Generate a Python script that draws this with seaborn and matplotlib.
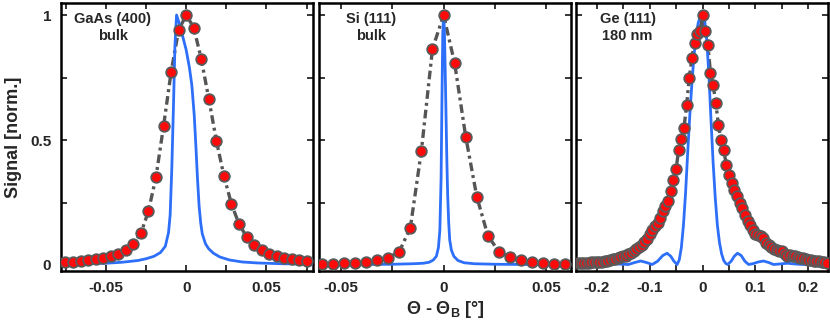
import matplotlib
matplotlib.use("Agg")
import matplotlib.pyplot as plt
import seaborn as sns
import pandas as pd
import numpy as np

# ---------------- data ----------------
# GaAs (400) bulk
gaas_x = [-0.0752, -0.0705, -0.0658, -0.0611, -0.0564, -0.0517, -0.0470, -0.0423,
          -0.0376, -0.0329, -0.0282, -0.0235, -0.0188, -0.0141, -0.0094, -0.0047,
          0.0, 0.0047, 0.0094, 0.0141, 0.0188, 0.0235, 0.0282, 0.0329, 0.0376,
          0.0423, 0.0470, 0.0517, 0.0564, 0.0611, 0.0658, 0.0705, 0.0752]
gaas_y = [0.011, 0.012, 0.016, 0.020, 0.024, 0.029, 0.036, 0.044, 0.060, 0.083,
          0.127, 0.216, 0.353, 0.556, 0.772, 0.940, 1.000, 0.950, 0.823, 0.664,
          0.497, 0.356, 0.244, 0.164, 0.113, 0.080, 0.060, 0.044, 0.036, 0.029,
          0.023, 0.019, 0.016]
gaas_th_x = [-0.079, -0.06, -0.05, -0.04, -0.03, -0.025, -0.02, -0.016, -0.013,
             -0.011, -0.010, -0.009, -0.008, -0.007, -0.006, -0.004, -0.002, 0.0,
             0.002, 0.0035, 0.005, 0.006, 0.007, 0.008, 0.009, 0.010, 0.012, 0.014,
             0.017, 0.021, 0.027, 0.035, 0.045, 0.06, 0.079]
gaas_th_y = [0.003, 0.005, 0.007, 0.011, 0.018, 0.025, 0.035, 0.050, 0.075,
             0.130, 0.200, 0.380, 0.620, 0.880, 1.000, 0.960, 0.910, 0.860,
             0.790, 0.720, 0.600, 0.480, 0.350, 0.240, 0.170, 0.125, 0.085, 0.065,
             0.047, 0.032, 0.020, 0.012, 0.008, 0.005, 0.003]

# Si (111) bulk
si_x = [-0.0594, -0.0540, -0.0486, -0.0432, -0.0378, -0.0324, -0.0270, -0.0216,
        -0.0162, -0.0108, -0.0054, 0.0, 0.0054, 0.0108, 0.0162, 0.0216, 0.0270,
        0.0324, 0.0378, 0.0432, 0.0486, 0.0540, 0.0594]
si_y = [0.003, 0.004, 0.007, 0.008, 0.013, 0.020, 0.029, 0.053, 0.149, 0.457,
        0.864, 1.000, 0.807, 0.513, 0.273, 0.117, 0.053, 0.031, 0.020, 0.013,
        0.008, 0.005, 0.003]
si_th_x = [-0.0607, -0.04, -0.025, -0.015, -0.01, -0.007, -0.005, -0.0035, -0.0025,
           -0.0018, -0.0012, -0.0008, -0.0004, 0.0, 0.0004, 0.0008, 0.0012, 0.0016,
           0.002, 0.0025, 0.003, 0.0038, 0.005, 0.007, 0.01, 0.015, 0.025, 0.04, 0.0621]
si_th_y = [0.001, 0.002, 0.003, 0.005, 0.007, 0.011, 0.020, 0.035, 0.070, 0.140,
           0.350, 0.650, 0.920, 1.000, 0.940, 0.780, 0.600, 0.420, 0.280, 0.170,
           0.100, 0.060, 0.035, 0.018, 0.009, 0.005, 0.003, 0.002, 0.001]

# Ge (111) 180 nm
ge_x = [-0.235, -0.230, -0.225, -0.220, -0.215, -0.210, -0.205, -0.200, -0.195,
        -0.190, -0.185, -0.180, -0.175, -0.170, -0.165, -0.160, -0.155, -0.150,
        -0.145, -0.140, -0.135, -0.130, -0.125, -0.120, -0.115, -0.110, -0.105,
        -0.100, -0.095, -0.090, -0.085, -0.080, -0.075, -0.070, -0.065, -0.060,
        -0.055, -0.050, -0.045, -0.040, -0.035, -0.030, -0.025, -0.020, -0.015,
        -0.010, -0.005, 0.000, 0.005, 0.010, 0.015, 0.020, 0.025, 0.030, 0.035,
        0.040, 0.045, 0.050, 0.055, 0.060, 0.065, 0.070, 0.075, 0.080, 0.085,
        0.090, 0.095, 0.100, 0.105, 0.110, 0.115, 0.120, 0.125, 0.130, 0.135,
        0.140, 0.145, 0.150, 0.155, 0.160, 0.165, 0.170, 0.175, 0.180, 0.185,
        0.190, 0.195, 0.200, 0.205, 0.210, 0.215, 0.220, 0.225, 0.230, 0.235]
ge_y = [0.009, 0.009, 0.010, 0.010, 0.010, 0.011, 0.011, 0.012, 0.013, 0.013,
        0.016, 0.018, 0.020, 0.023, 0.026, 0.029, 0.032, 0.036, 0.038, 0.043,
        0.050, 0.058, 0.064, 0.072, 0.082, 0.093, 0.105, 0.125, 0.140, 0.155,
        0.170, 0.190, 0.215, 0.235, 0.258, 0.295, 0.340, 0.385, 0.460, 0.505,
        0.550, 0.640, 0.750, 0.830, 0.890, 0.925, 0.935, 1.000, 0.935, 0.880,
        0.770, 0.720, 0.650, 0.560, 0.500, 0.460, 0.400, 0.360, 0.330, 0.300,
        0.275, 0.250, 0.230, 0.200, 0.178, 0.160, 0.140, 0.125, 0.120, 0.115,
        0.108, 0.090, 0.080, 0.072, 0.066, 0.062, 0.058, 0.055, 0.045, 0.037,
        0.040, 0.038, 0.035, 0.033, 0.030, 0.028, 0.026, 0.022, 0.020, 0.018,
        0.016, 0.015, 0.012, 0.011, 0.010]
ge_th_x = [-0.239, -0.215, -0.19, -0.175, -0.16, -0.14, -0.128, -0.117, -0.106,
           -0.095, -0.085, -0.075, -0.067, -0.06, -0.054, -0.048, -0.044, -0.04,
           -0.036, -0.032, -0.028, -0.024, -0.02, -0.016, -0.012, -0.008, -0.004,
           0.0, 0.004, 0.008, 0.012, 0.016, 0.020, 0.024, 0.028, 0.032, 0.036,
           0.040, 0.044, 0.0475, 0.054, 0.06, 0.066, 0.073, 0.08, 0.087, 0.095,
           0.105, 0.115, 0.125, 0.134, 0.145, 0.16, 0.175, 0.19, 0.21, 0.237]
ge_th_y = [0.004, 0.003, 0.002, 0.007, 0.004, 0.002, 0.010, 0.016, 0.010, 0.002,
           0.015, 0.038, 0.047, 0.035, 0.015, 0.002, 0.020, 0.070, 0.160, 0.290,
           0.450, 0.600, 0.730, 0.840, 0.920, 0.970, 0.995, 1.000, 0.980, 0.900,
           0.760, 0.580, 0.410, 0.270, 0.160, 0.090, 0.045, 0.018, 0.006, 0.002,
           0.015, 0.035, 0.047, 0.038, 0.015, 0.002, 0.005, 0.012, 0.016, 0.010,
           0.002, 0.004, 0.007, 0.004, 0.002, 0.003, 0.004]

panel_labels = ["GaAs (400)\nbulk", "Si (111)\nbulk", "Ge (111)\n180 nm"]
xlims = [(-0.078, 0.079), (-0.0607, 0.0621), (-0.239, 0.237)]
xmajor = [[-0.05, 0.0, 0.05], [-0.05, 0.0, 0.05], [-0.2, -0.1, 0.0, 0.1, 0.2]]
xmajor_labels = [["-0.05", "0", "0.05"], ["-0.05", "0", "0.05"],
                 ["-0.2", "-0.1", "0", "0.1", "0.2"]]
xminor = [[-0.075, -0.025, 0.025, 0.075], [-0.025, 0.025],
          [-0.15, -0.05, 0.05, 0.15]]
yticks = [0.0, 0.5, 1.0]
ytick_labels = ["0", "0.5", "1"]
yminor = [0.25, 0.75]

# ---------------- style ----------------
sns.set_theme(style="ticks")
plt.rcParams["font.family"] = ["Liberation Sans", "DejaVu Sans"]
plt.rcParams["font.weight"] = "bold"
plt.rcParams["axes.unicode_minus"] = False
plt.rcParams["mathtext.fontset"] = "custom"
plt.rcParams["mathtext.rm"] = "Liberation Sans:bold"
plt.rcParams["mathtext.bf"] = "Liberation Sans:bold"
plt.rcParams["mathtext.it"] = "Liberation Sans:bold"

BLUE = "#2d6ff8"
RED = "#ff0a0a"
GRAY = "#555555"

fig = plt.figure(figsize=(8.30, 3.23), dpi=100)
W, H = 830.0, 323.0
lefts = [61, 319, 576]
width = 252
top_px, bot_px = 3, 271

datasets = [(gaas_x, gaas_y, gaas_th_x, gaas_th_y),
            (si_x, si_y, si_th_x, si_th_y),
            (ge_x, ge_y, ge_th_x, ge_th_y)]

axes = []
for i, (ex, ey, tx, ty) in enumerate(datasets):
    ax = fig.add_axes([lefts[i] / W, 1 - bot_px / H, width / W, (bot_px - top_px) / H])
    axes.append(ax)
    dexp = pd.DataFrame({"x": ex, "y": ey})
    dth = pd.DataFrame({"x": tx, "y": ty})
    sns.lineplot(data=dexp, x="x", y="y", ax=ax, color=GRAY, lw=2.4,
                 linestyle=(0, (2.6, 1.2, 0.9, 1.2)), sort=False, estimator=None,
                 zorder=2)
    sns.lineplot(data=dth, x="x", y="y", ax=ax, color=BLUE, lw=2.0, sort=False,
                 estimator=None, zorder=3)
    sns.scatterplot(data=dexp, x="x", y="y", ax=ax, color=RED, s=58,
                    edgecolor="#5a5a5a", linewidth=1.3, zorder=4)
    ax.set_xlim(*xlims[i])
    ax.set_ylim(-0.024, 1.048)
    ax.set_xticks(xmajor[i])
    ax.set_xticklabels(xmajor_labels[i], fontsize=11, fontweight="bold")
    ax.set_xticks(xminor[i], minor=True)
    ax.set_yticks(yticks)
    ax.set_yticks(yminor, minor=True)
    if i == 0:
        ax.set_yticklabels(ytick_labels, fontsize=11, fontweight="bold")
    else:
        ax.set_yticklabels([])
    ax.tick_params(which="both", direction="in", top=True, right=True,
                   length=4.5, width=1.1, color="black")
    ax.tick_params(axis="x", pad=7)
    ax.tick_params(axis="y", pad=7)
    for sp in ax.spines.values():
        sp.set_linewidth(1.8)
        sp.set_color("black")
    ax.set_xlabel("")
    ax.set_ylabel("")
    ax.text(0.205, 0.965, panel_labels[i], transform=ax.transAxes, ha="center",
            va="top", fontsize=10.5, fontweight="bold", linespacing=1.2)

fig.text(13 / W, 1 - 137 / H, "Signal [norm.]", rotation=90, ha="center",
         va="center", fontsize=13, fontweight="bold")
fig.text(445 / W, 1 - 309 / H, r"Θ - Θ$_\mathbf{B}$ [°]", ha="center",
         va="center", fontsize=13, fontweight="bold")

fig.savefig("out.png", dpi=100)
